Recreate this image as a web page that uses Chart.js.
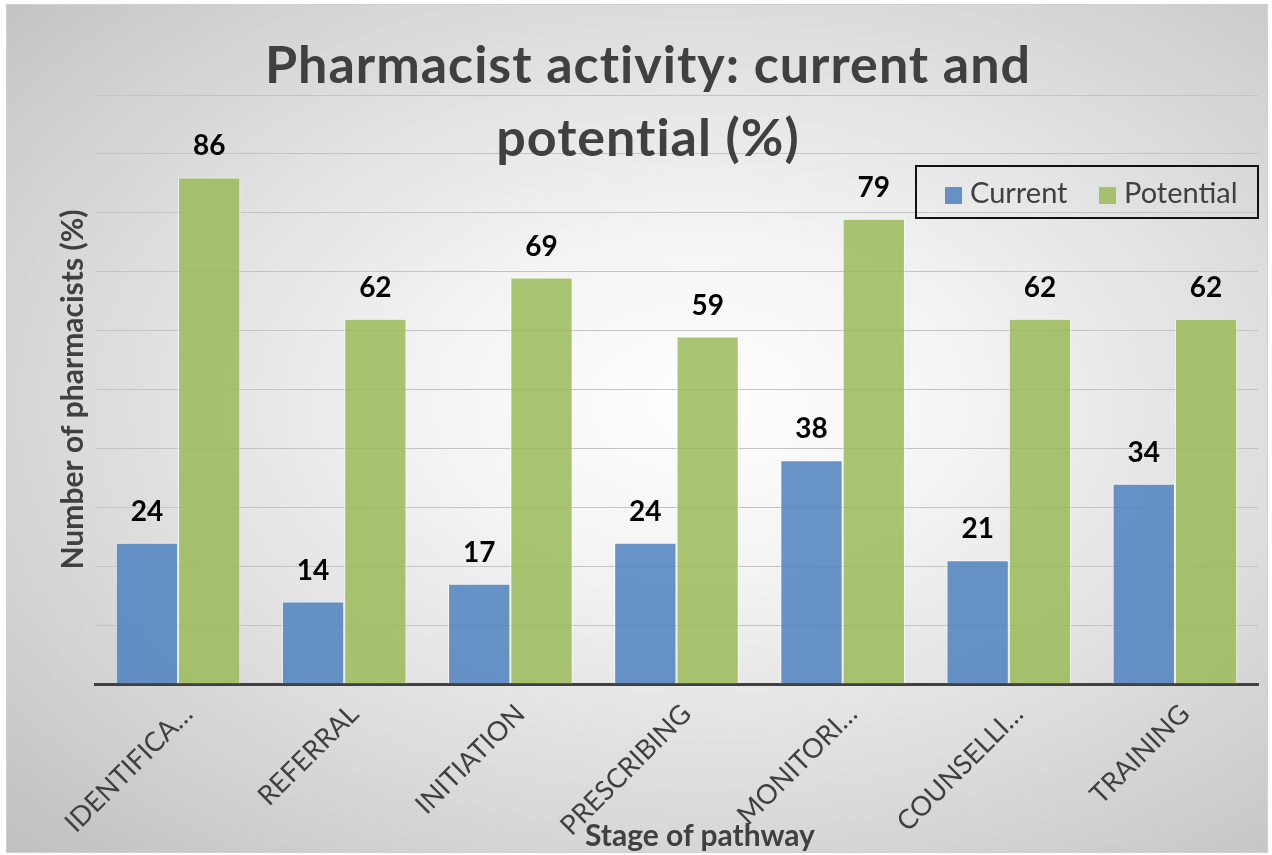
<!DOCTYPE html>
<html>
<head>
<meta charset="utf-8">
<script src="https://cdn.jsdelivr.net/npm/chart.js@4"></script>
<style>
    html, body { margin: 0; padding: 0; background: #fff; }
    #wrap { position: relative; width: 1272px; height: 855px; overflow: hidden; }
    #frame {
        position: absolute; left: 6px; top: 4px; width: 1262px; height: 849px;
        border: 1px solid #d0d0d0; box-sizing: border-box;
        background: radial-gradient(ellipse farthest-corner at 55% 47%, #ffffff 0%, #f3f3f3 28%, #dadada 65%, #c0c0c0 100%);
    }
    #chart { position: absolute; left: 0; top: 0; }
    #title {
        position: absolute; left: 0; top: 27px; width: 1296px; text-align: center;
        font-family: Lato, sans-serif; font-weight: bold; font-size: 52px; line-height: 73px;
        letter-spacing: 1px; color: #404040;
    }
    #legend {
        position: absolute; left: 915px; top: 165px; width: 344px; height: 54px;
        border: 2px solid #111; box-sizing: border-box;
        font-family: Lato, sans-serif; font-size: 29px; color: #404040;
    }
    .item { position: absolute; top: 0; height: 50px; line-height: 50px; white-space: nowrap; }
    .box { display: inline-block; width: 17px; height: 17px; margin-right: 8px; vertical-align: -1px; }
    #xtitle {
        position: absolute; left: 500px; top: 816px; width: 400px; text-align: center;
        font-family: Lato, sans-serif; font-weight: bold; font-size: 30px; color: #404040;
    }
</style>
</head>
<body>
<div id="wrap">
    <div id="frame"></div>
    <canvas id="chart" width="1272" height="855"></canvas>
    <div id="title">Pharmacist activity: current and<br>potential (%)</div>
    <div id="legend"></div>
    <div id="xtitle">Stage of pathway</div>
</div>
<script>
// Données
const stages = ['IDENTIFICA…', 'REFERRAL', 'INITIATION', 'PRESCRIBING', 'MONITORI…', 'COUNSELLI…', 'TRAINING'];
const currentValues = [24, 14, 17, 24, 38, 21, 34];
const potentialValues = [86, 62, 69, 59, 79, 62, 62];
const seriesNames = ['Current', 'Potential'];
const seriesColors = ['rgba(79,129,189,0.85)', 'rgba(155,187,89,0.85)'];

// Valeurs au-dessus des barres
const valueLabels = {
    id: 'valueLabels',
    afterDatasetsDraw(chart) {
        const c = chart.ctx;
        c.save();
        c.font = 'bold 28px Lato';
        c.fillStyle = '#000';
        c.textAlign = 'center';
        c.textBaseline = 'middle';
        chart.data.datasets.forEach((ds, i) => {
            chart.getDatasetMeta(i).data.forEach((bar, j) => {
                c.fillText(ds.data[j], bar.x, bar.y - 31);
            });
        });
        c.restore();
    }
};

new Chart(document.getElementById('chart'), {
    type: 'bar',
    data: {
        labels: stages,
        datasets: [
            { label: seriesNames[0], data: currentValues, backgroundColor: seriesColors[0] },
            { label: seriesNames[1], data: potentialValues, backgroundColor: seriesColors[1] }
        ].map(d => Object.assign(d, {
            borderColor: 'rgba(255,255,255,0.7)',
            borderWidth: 1,
            categoryPercentage: 0.75,
            barPercentage: 1
        }))
    },
    options: {
        responsive: false,
        animation: false,
        layout: { padding: { left: 51, right: 14, top: 95, bottom: 0 } },
        plugins: { legend: { display: false }, tooltip: { enabled: false } },
        scales: {
            x: {
                grid: { display: false },
                border: { color: '#404040', width: 3 },
                ticks: {
                    color: '#404040',
                    font: { family: 'Lato', size: 27 },
                    minRotation: 45, maxRotation: 45,
                    autoSkip: false,
                    padding: 6,
                    labelOffset: 10
                },
                afterFit(scale) { scale.height = 171; }
            },
            y: {
                min: 0, max: 100,
                border: { display: false },
                grid: { color: '#c4c4c4', lineWidth: 1, drawTicks: false },
                ticks: { display: false, stepSize: 10 },
                title: {
                    display: true,
                    text: 'Number of pharmacists (%)',
                    color: '#404040',
                    font: { family: 'Lato', size: 30, weight: 'bold' }
                }
            }
        }
    },
    plugins: [valueLabels]
});

// Légende custom
const legend = document.getElementById('legend');
const legendX = [28, 182];
legend.innerHTML = seriesNames.map((name, i) =>
    `<div class="item" style="left:${legendX[i]}px"><span class="box" style="background:${seriesColors[i]}"></span>${name}</div>`
).join('');
</script>
</body>
</html>
